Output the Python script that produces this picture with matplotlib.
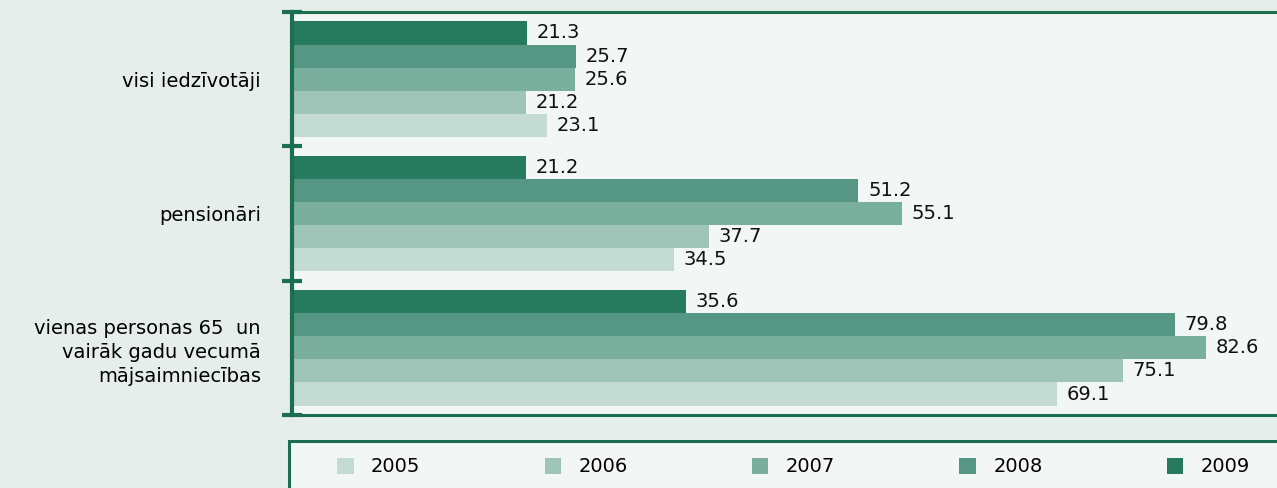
import numpy as np
import matplotlib.pyplot as plt
from matplotlib.patches import Patch, Rectangle

groups = ['visi iedzīvotāji', 'pensionāri',
          'vienas personas 65  un\nvairāk gadu vecumā\nmājsaimniecības']
years = ['2005', '2006', '2007', '2008', '2009']
v2005 = [23.1, 34.5, 69.1]
v2006 = [21.2, 37.7, 75.1]
v2007 = [25.6, 55.1, 82.6]
v2008 = [25.7, 51.2, 79.8]
v2009 = [21.3, 21.2, 35.6]
series = [v2005, v2006, v2007, v2008, v2009]
colors = ['#c3dbd3', '#9fc5b8', '#7aae9d', '#569684', '#267b5e']

dark = '#1b6e4f'
fs = 14
fig = plt.figure(figsize=(12.77, 4.88), dpi=100)
fig.patch.set_facecolor('#e6eeeb')
ax = fig.add_axes([291.5 / 1277, 73 / 488, (1277 - 291.5) / 1277, 403 / 488])
ax.set_facecolor('#f2f6f5')

y = np.arange(len(groups))
h = 0.172
for i, vals in enumerate(series):
    off = (2 - i) * h
    bars = ax.barh(y + off, vals, height=h, color=colors[i], label=years[i])
    ax.bar_label(bars, labels=[f'{v:.1f}' for v in vals], padding=7,
                 fontsize=fs, color='#111111')

ax.set_xlim(0, 89)
ax.set_ylim(2.5, -0.5)
ax.set_xticks([])
ax.set_yticks([-0.5, 0.5, 1.5, 2.5])
ax.set_yticklabels([])
ax.tick_params(axis='y', which='major', direction='inout', length=14,
               width=3, color=dark)
ax.set_yticks(y, minor=True)
ax.set_yticklabels(groups, minor=True, fontsize=fs, linespacing=1.32)
ax.tick_params(axis='y', which='minor', length=0, pad=22)

ax.spines['right'].set_visible(False)
ax.spines['left'].set_color(dark)
ax.spines['left'].set_linewidth(3)
for s in ['top', 'bottom']:
    ax.spines[s].set_color(dark)
    ax.spines[s].set_linewidth(2.2)

# legend frame
fig.patches.append(Rectangle((289 / 1277, -0.1), 0.8, 0.1 + (488 - 441) / 488,
                             transform=fig.transFigure, facecolor='#f2f6f5',
                             edgecolor=dark, linewidth=2.2))
handles = [Patch(facecolor=c, label=yr) for c, yr in zip(colors, years)]
fig.legend(handles=handles, loc='center left', ncol=5, frameon=False,
           mode='expand', bbox_to_anchor=(337 / 1277, 21 / 488, (1250 - 337) / 1277, 0),
           borderpad=0, borderaxespad=0, fontsize=fs, handlelength=0.85,
           handleheight=0.85, handletextpad=0.9)

fig.savefig('out.png', dpi=100, facecolor=fig.get_facecolor())
